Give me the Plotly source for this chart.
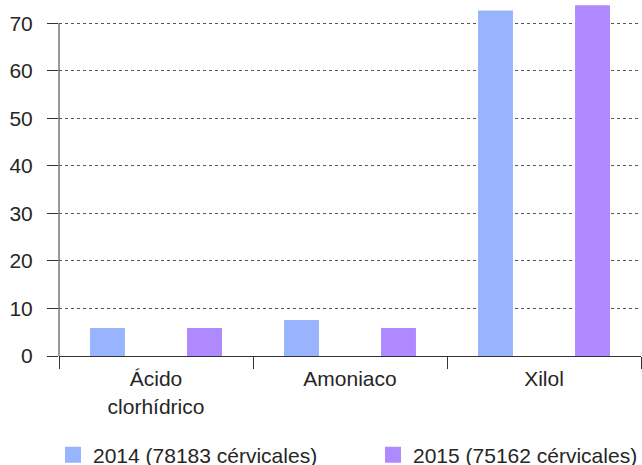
import plotly.graph_objects as go

categories = ["Ácido<br>clorhídrico", "Amoniaco", "Xilol"]
series_names = ["2014 (78183 cérvicales)", "2015 (75162 cérvicales)"]
values_2014 = [5.9, 7.6, 72.7]
values_2015 = [5.9, 5.9, 73.8]
y_ticks = [0, 10, 20, 30, 40, 50, 60, 70]

colors = ["#98B4FF", "#AE89FF"]
legend_ids = ["legend", "legend2"]
font_family = "Arial, 'Liberation Sans', sans-serif"
text_color = "#262626"

fig = go.Figure()
for name, vals, col, lg in zip(series_names, [values_2014, values_2015], colors, legend_ids):
    fig.add_trace(go.Bar(x=categories, y=vals, name=name, marker_color=col,
                         marker_line_width=0, showlegend=False, legendgroup=name))
    fig.add_trace(go.Scatter(x=[None], y=[None], mode="markers", name=name,
                             marker=dict(symbol="square", size=16, color=col),
                             legendgroup=name, showlegend=True, legend=lg))

leg_common = dict(orientation="h", xref="container", yref="container",
                  xanchor="left", y=0.0215, yanchor="middle", itemsizing="trace",
                  font=dict(size=21, color=text_color), bgcolor="rgba(0,0,0,0)")

fig.update_layout(
    width=642, height=465,
    margin=dict(l=59, r=1, t=0, b=109, autoexpand=False),
    paper_bgcolor="white", plot_bgcolor="white",
    font=dict(family=font_family, size=21, color=text_color),
    barmode="group", bargap=0.0, bargroupgap=0.64,
    showlegend=True,
    legend=dict(x=53 / 642, **leg_common),
    legend2=dict(x=373 / 642, **leg_common),
)
fig.update_xaxes(showline=True, linecolor="#333333", linewidth=1,
                 ticks="outside", tickson="boundaries", ticklen=12,
                 tickcolor="#333333", showgrid=False, range=[-0.5, 2.5],
                 automargin=False, ticklabelstandoff=4)
fig.update_yaxes(range=[0, 74.9], tickvals=y_ticks, showline=False,
                 ticks="outside", ticklen=11, tickcolor="#333333",
                 showgrid=True, gridcolor="#555555", griddash="dot", gridwidth=1,
                 zeroline=False, ticklabelstandoff=10, automargin=False)
fig.add_shape(type="line", xref="paper", yref="y", x0=0, x1=0, y0=0, y1=max(y_ticks),
              line=dict(color="#333333", width=1))
fig.write_html("out.html", config={"displayModeBar": False},
               post_script="document.body.style.margin='0';document.body.style.overflow='hidden';")
